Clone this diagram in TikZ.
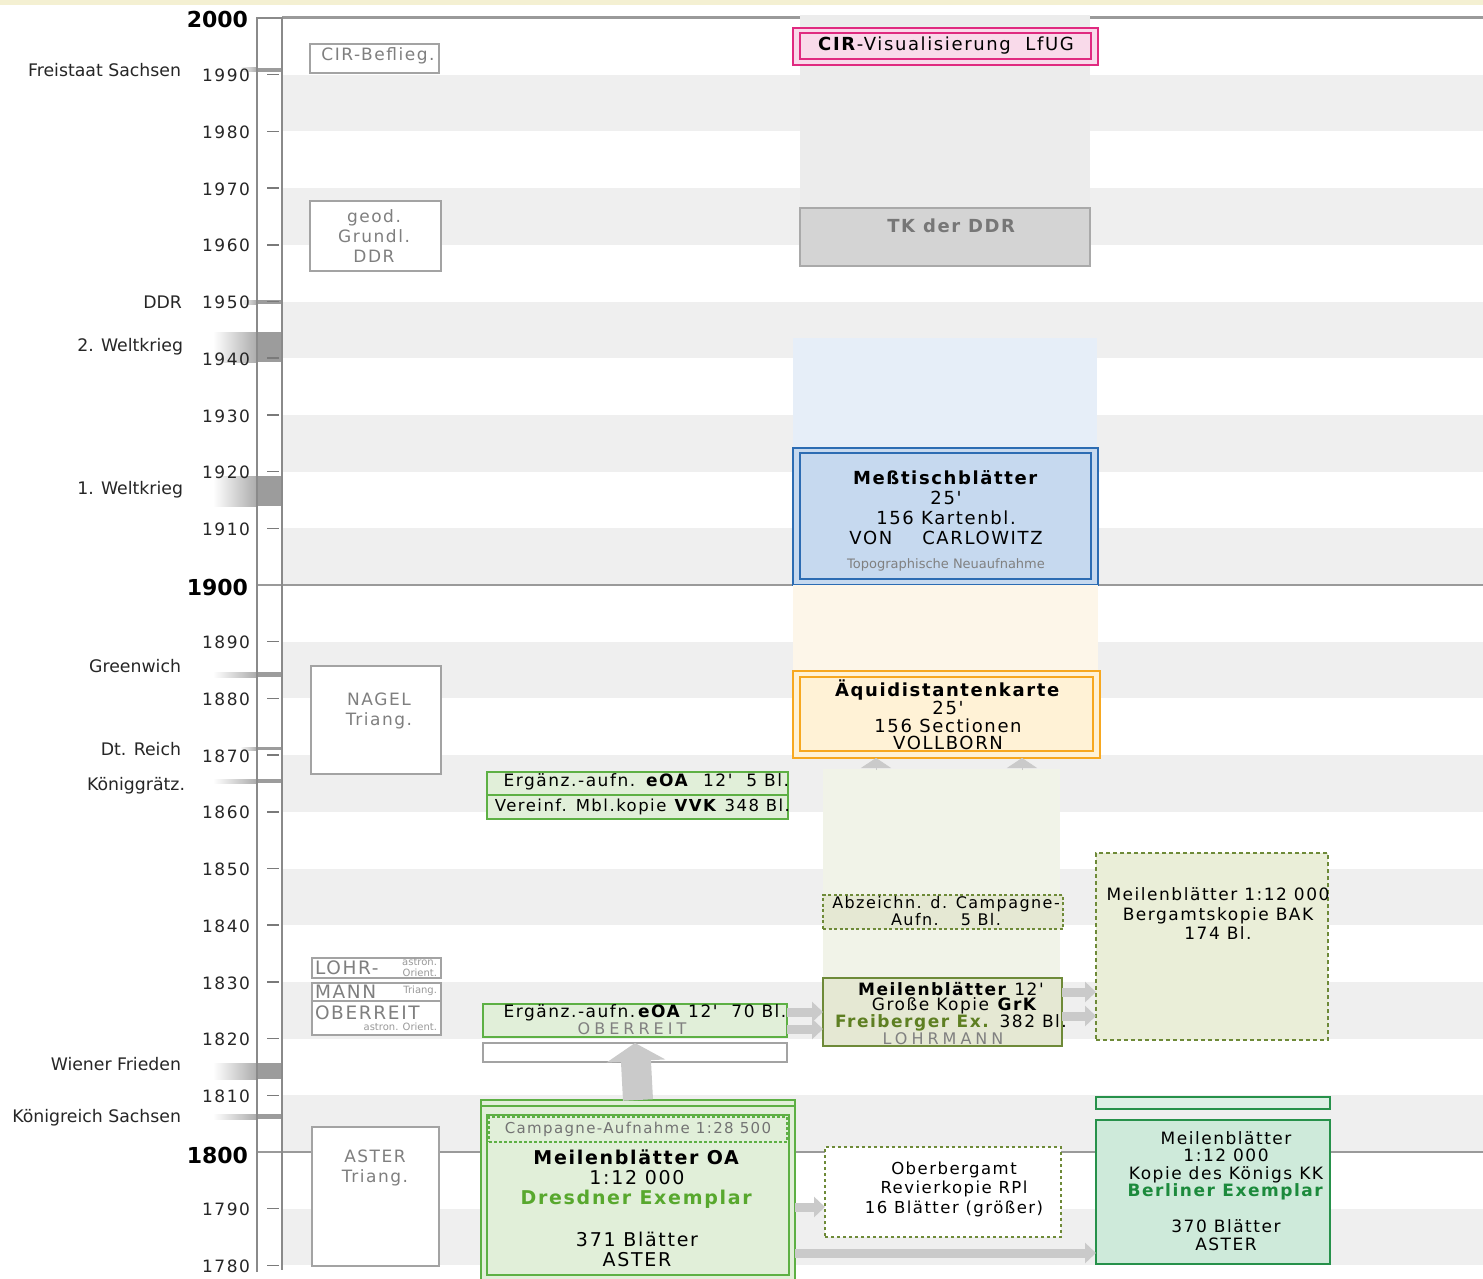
\documentclass[tikz,border=0pt]{standalone}
\usepackage{fontspec}
\setmainfont{DejaVu Sans}
\newfontfamily\nf{DejaVu Sans}
\newfontfamily\wf[LetterSpace=9]{DejaVu Sans}
\newfontfamily\xwf[LetterSpace=25]{DejaVu Sans}
\usetikzlibrary{arrows.meta,fit}
\definecolor{axisgray}{HTML}{8A8A8A}
\definecolor{tickgray}{HTML}{7A7A7A}
\definecolor{bandgray}{HTML}{EFEFEF}
\definecolor{linegray}{HTML}{9A9A9A}
\definecolor{evdark}{HTML}{9C9C9C}
\definecolor{evmid}{HTML}{ABABAB}
\definecolor{lboxtext}{HTML}{7F7F7F}
\definecolor{lboxdraw}{HTML}{A3A3A3}
\definecolor{pinkfill}{HTML}{F9DAEA}
\definecolor{pinkdraw}{HTML}{E02A80}
\definecolor{dotgray}{HTML}{ECECEC}
\definecolor{tkfill}{HTML}{D4D4D4}
\definecolor{tkdraw}{HTML}{A9A9A9}
\definecolor{tktext}{HTML}{777777}
\definecolor{dotblue}{HTML}{E6EEF8}
\definecolor{bluefill}{HTML}{C6D9EF}
\definecolor{bluedraw}{HTML}{2C6CB3}
\definecolor{dotorange}{HTML}{FDF6E9}
\definecolor{orangefill}{HTML}{FFF2D6}
\definecolor{orangedraw}{HTML}{F7A820}
\definecolor{dotolive}{HTML}{F1F3E8}
\definecolor{olivefill}{HTML}{E5E8D3}
\definecolor{olivedraw}{HTML}{6E8A38}
\definecolor{olivetext}{HTML}{5E7F22}
\definecolor{bakfill}{HTML}{EAEED8}
\definecolor{greenfill}{HTML}{E1EFD9}
\definecolor{greendraw}{HTML}{5DB044}
\definecolor{greentext}{HTML}{58A82E}
\definecolor{kkfill}{HTML}{CEEADA}
\definecolor{kkdraw}{HTML}{26914A}
\definecolor{kktext}{HTML}{1C8A3C}
\definecolor{arrowgray}{HTML}{CACACA}
\definecolor{topyellow}{HTML}{F4F0D2}
\tikzset{
  every node/.style={inner sep=0pt, outer sep=0pt},
  yearlbl/.style={anchor=east, text=black!85, font=\wf\fontsize{17}{19}\selectfont},
  centlbl/.style={anchor=east, text=black, font=\nf\fontsize{22}{24}\selectfont\bfseries},
  eventlbl/.style={anchor=east, text=black!85, font=\nf\fontsize{17.3}{19}\selectfont},
  tickline/.style={draw=tickgray, line width=1.5pt},
  lbox/.style={draw=lboxdraw, line width=1.5pt, fill=white},
  ltext/.style={align=center, text=lboxtext, font=\wf\fontsize{17}{20}\selectfont},
  tinytext/.style={text=black!40, font=\nf\fontsize{10}{11}\selectfont},
  ctext/.style={align=center, text=black, font=\wf\fontsize{18}{20}\selectfont},
  ctextsm/.style={align=center, text=black, font=\wf\fontsize{17}{19.5}\selectfont},
  spacedgray/.style={text=black!50, font=\xwf\fontsize{16}{18}\selectfont},
  gbox/.style={fill=greenfill, draw=greendraw, line width=1.8pt},
  garrow/.style={draw=arrowgray, line width=9pt, -{Triangle[length=11pt,width=20pt]}},
  bigarrow/.style={draw=arrowgray, line width=30pt, -{Triangle[length=18pt,width=58pt]}},
  uptip/.style={draw=arrowgray, line width=0.5pt, -{Triangle[length=10pt,width=30pt]}},
}
\newcommand\evbar[3]{%
  \shade[left color=white, right color=evmid] (#3,#1) rectangle (257,#2);
  \fill[evdark] (257,#1) rectangle (282,#2);}
\begin{document}
\begin{tikzpicture}[x=1pt,y=-1pt]
\useasboundingbox (0,0) rectangle (1483,1279);
\fill[white] (0,0) rectangle (1483,1279);
\fill[topyellow] (0,0) rectangle (1483,5);
% alternating bands
\foreach \Y in {1990,1970,1950,1930,1910,1890,1870,1850,1830,1810,1790}
  \fill[bandgray] (282,{18+(2000-\Y)*5.67}) rectangle (1483,{18+(2010-\Y)*5.67});
% century lines
\draw[linegray, line width=3pt] (282,18) -- (1483,18);
\draw[linegray, line width=2.5pt] (257,585) -- (1483,585);
\draw[linegray, line width=2.5pt] (257,1152) -- (1483,1152);
% event bars
\evbar{68}{72}{240}
\evbar{300}{304}{240}
\evbar{332}{362}{213}
\evbar{476}{506}{213}
\evbar{672}{677}{213}
\evbar{747}{750}{240}
\evbar{779}{783}{213}
\evbar{1063}{1079}{213}
\evbar{1114}{1119}{213}
% axis
\draw[axisgray, line width=1.8pt] (257,1272) -- (257,18) -- (282,18) -- (282,1270);
% ticks and years
\foreach \Y in {1990,1980,1970,1960,1950,1940,1930,1920,1910,1890,1880,1870,1860,1850,1840,1830,1820,1810,1790,1780}{
  \pgfmathsetmacro\yy{18+(2000-\Y)*5.67}
  \draw[tickline] (267,\yy) -- (279,\yy);
  \node[yearlbl] (yr\Y) at (250,\yy+1) {\Y};
}
\node[centlbl] (yr2000) at (248,19) {2000};
\node[centlbl] (yr1900) at (248,587) {1900};
\node[centlbl] (yr1800) at (248,1155) {1800};
% event labels
\node[eventlbl] (ev1) at (181,70) {Freistaat Sachsen};
\node[eventlbl] (ev2) at (182,302) {DDR};
\node[eventlbl] (ev3) at (183,347) {2. Weltkrieg};
\node[eventlbl] (ev4) at (183,490) {1. Weltkrieg};
\node[eventlbl] (ev5) at (181,666) {Greenwich};
\node[eventlbl] (ev6) at (181,749) {Dt. Reich};
\node[eventlbl] (ev7) at (185,786) {Königgrätz.};
\node[eventlbl] (ev8) at (181,1064) {Wiener Frieden};
\node[eventlbl] (ev9) at (181,1118) {Königreich Sachsen};
% left column boxes
\node[lbox, fit={(310,44)(439,73)}] (cirb) {};
\node[ltext] (cirbt) at (378,56) {CIR-Beflieg.};
\node[lbox, fit={(310,201)(441,271)}] (geod) {};
\node[ltext] (geodt) at (374,236) {geod.\\Grundl.\\DDR};
\node[lbox, fit={(311,666)(441,774)}] (nagel) {};
\node[ltext] (nagelt) at (379,711) {NAGEL\\Triang.};
\node[lbox, fit={(312,958)(441,978)}] (lohr1) {};
\node[lbox, fit={(312,983)(441,1001)}] (lohr2) {};
\node[lbox, fit={(312,1001)(441,1035)}] (lohr3) {};
\node[ltext, anchor=west, font=\wf\fontsize{18.5}{20}\selectfont] (lohrt) at (315,968) {LOHR-};
\node[ltext, anchor=west, font=\wf\fontsize{18.5}{20}\selectfont] (mannt) at (315,992) {MANN};
\node[ltext, anchor=west, font=\wf\fontsize{18.5}{20}\selectfont] (oberrt) at (315,1013) {OBERREIT};
\node[tinytext, anchor=east] (tin1) at (437,962) {astron.};
\node[tinytext, anchor=east] (tin2) at (437,973) {Orient.};
\node[tinytext, anchor=east] (tin3) at (437,991) {Triang.};
\node[tinytext, anchor=east] (tin4) at (437,1027) {astron. Orient.};
\node[lbox, fit={(312,1127)(439,1266)}] (aster) {};
\node[ltext] (astert) at (375,1168) {ASTER\\Triang.};
% top center: CIR / TK
\fill[dotgray] (800,15) rectangle (1090,208);
\node[fit={(800,208)(1090,266)}, fill=tkfill, draw=tkdraw, line width=1.5pt] (tk) {};
\node[ctext, text=tktext] (tkt) at (952,226) {\textbf{TK der DDR}};
\node[fit={(793,28)(1098,65)}, fill=pinkfill, draw=pinkdraw, line width=2pt] (cir) {};
\draw[pinkdraw, line width=1.6pt] (800,33) rectangle (1091,59);
\node[ctext] (cirt) at (946,46) {\textbf{CIR}-Visualisierung\ \ LfUG};
% Messtischblaetter
\fill[dotblue] (793,338) rectangle (1097,448);
\node[fit={(793,448)(1098,585)}, fill=bluefill, draw=bluedraw, line width=2pt] (mtb) {};
\draw[bluedraw, line width=1.6pt] (800,453) rectangle (1091,579);
\node[ctext] (mtbt) at (946,508) {\textbf{Meßtischblätter}\\25'\\156 Kartenbl.\\VON\hspace{30pt}CARLOWITZ};
\node[text=black!50, font=\nf\fontsize{13}{15}\selectfont] (mtbs) at (946,565) {Topographische Neuaufnahme};
% Aequidistantenkarte
\fill[dotorange] (793,585) rectangle (1098,671);
\node[fit={(793,671)(1100,758)}, fill=orangefill, draw=orangedraw, line width=2pt] (aequi) {};
\draw[orangedraw, line width=1.6pt] (800,677) rectangle (1093,751);
\node[ctext, font=\wf\fontsize{18}{17.7}\selectfont] (aequit) at (948,715) {\textbf{Äquidistantenkarte}\\25'\\156 Sectionen\\VOLLBORN};
% olive column
\fill[dotolive] (823,769) rectangle (1060,978);
\coordinate (up1) at (876,770);
\coordinate (up2) at (1022,770);
\draw[uptip] (up1) -- (up1 |- aequi.south);
\draw[uptip] (up2) -- (up2 |- aequi.south);
\node[fit={(823,895)(1063,929)}, fill=olivefill, draw=olivedraw, line width=1.4pt, dash pattern=on 3pt off 2.5pt] (abz) {};
\node[ctext, font=\wf\fontsize{16}{15}\selectfont] (abzt) at (946,911) {Abzeichn. d. Campagne-\\Aufn.\hspace{22pt}5 Bl.};
\node[fit={(823,978)(1062,1046)}, fill=olivefill, draw=olivedraw, line width=1.5pt] (grk) {};
\node[ctextsm] (grk1) at (951,989) {\textbf{Meilenblätter} 12'};
\node[ctextsm] (grk2) at (955,1006) {Große Kopie \textbf{GrK}};
\node[ctextsm] (grk3) at (951,1023) {\textcolor{olivetext}{\textbf{Freiberger Ex.}} 382 Bl.};
\node[spacedgray] (grk4) at (943,1039) {LOHRMANN};
\node[fit={(1096,853)(1328,1040)}, fill=bakfill, draw=olivedraw, line width=1.5pt, dash pattern=on 4pt off 3pt] (bak) {};
\node[ctextsm] (bakt) at (1218,914) {Meilenblätter 1:12 000\\Bergamtskopie BAK\\174 Bl.};
\draw[garrow] (grk.east |- 0,992) -- (bak.west |- 0,992);
\draw[garrow] (grk.east |- 0,1016) -- (bak.west |- 0,1016);
% green left column
\node[gbox, fit={(487,772)(788,795)}] (eoa5) {};
\node[gbox, fit={(487,795)(788,819)}] (vvk) {};
\node[ctextsm, anchor=east] (eoa5t) at (789,782) {Ergänz.-aufn. \textbf{eOA}\ \ 12'\ \ 5 Bl.};
\node[ctextsm, anchor=east, font=\wf\fontsize{16.5}{19}\selectfont] (vvkt) at (790,807) {Vereinf. Mbl.kopie \textbf{VVK} 348 Bl.};
\node[gbox, fit={(483,1004)(787,1037)}] (eoa70) {};
\node[ctextsm] (eoa70t) at (645,1013) {Ergänz.-aufn.\,\textbf{eOA} 12'\ \ 70 Bl.};
\node[spacedgray] (eoa70o) at (632,1029) {OBERREIT};
\node[fit={(483,1043)(787,1062)}, fill=white, draw=lboxdraw, line width=1.5pt] (empty) {};
\draw[garrow] (eoa70.east |- 0,1012) -- (grk.west |- 0,1012);
\draw[garrow] (eoa70.east |- 0,1029) -- (grk.west |- 0,1029);
% Meilenblaetter OA
\node[fit={(481,1100)(795,1295)}, fill=greenfill, draw=greendraw, line width=2pt] (oaouter) {};
\draw[greendraw, line width=1.5pt] (oaouter.west |- 0,1106) -- (oaouter.east |- 0,1106);
\node[fit={(487,1115)(789,1275)}, fill=greenfill, draw=greendraw, line width=1.5pt] (oa) {};
\node[fit={(489,1117)(787,1142)}, draw=greendraw, line width=1.3pt, dash pattern=on 3pt off 2pt] (camp) {};
\node[text=black!55, font=\wf\fontsize{15}{17}\selectfont] (campt) at (638,1129) {Campagne-Aufnahme 1:28 500};
\node[ctext, font=\wf\fontsize{19}{20}\selectfont] (oat) at (637,1179) {\textbf{Meilenblätter OA}\\1:12 000\\\textcolor{greentext}{\textbf{Dresdner Exemplar}}};
\node[ctext, font=\wf\fontsize{19}{20}\selectfont] (oat2) at (637,1249) {371 Blätter\\ASTER};
\draw[bigarrow] (oaouter.north) -- (empty.north);
% Oberbergamt
\node[fit={(825,1147)(1061,1237)}, fill=white, draw=olivedraw, line width=1.3pt, dash pattern=on 3pt off 3pt] (obb) {};
\node[ctext, font=\wf\fontsize{16.5}{19.5}\selectfont] (obbt) at (954,1189) {Oberbergamt\\Revierkopie RPl\\16 Blätter (größer)};
% KK
\node[fit={(1096,1097)(1330,1109)}, fill=kkfill!70, draw=kkdraw, line width=1.5pt] (kkstrip) {};
\node[fit={(1096,1120)(1330,1264)}, fill=kkfill, draw=kkdraw, line width=1.5pt] (kk) {};
\node[ctextsm, font=\wf\fontsize{17}{17.5}\selectfont] (kkt) at (1226,1166) {Meilenblätter\\1:12 000\\Kopie des Königs KK\\\textcolor{kktext}{\textbf{Berliner Exemplar}}};
\node[ctextsm, font=\wf\fontsize{17}{18}\selectfont] (kkt2) at (1226,1235) {370 Blätter\\ASTER};
\draw[garrow] (oaouter.east |- 0,1207) -- (obb.west |- 0,1207);
\draw[garrow] (oaouter.east |- 0,1253) -- (kk.west |- 0,1253);
\end{tikzpicture}
\end{document}
